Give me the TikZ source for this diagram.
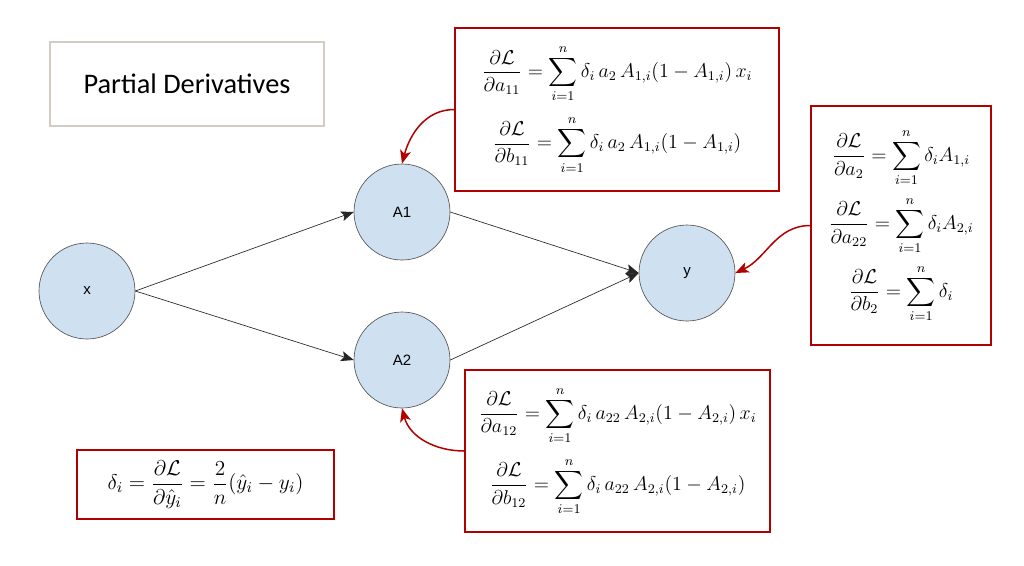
\RequirePackage{fix-cm}
\documentclass[tikz,border=0pt]{standalone}
\usepackage[no-math]{fontspec}
\usepackage{amsmath}
\usepackage{amssymb}
\usetikzlibrary{arrows.meta, positioning}
\newfontfamily\titlefont{Carlito}
\newfontfamily\labelfont{Liberation Sans}
\definecolor{nodeblue}{HTML}{CFE0F1}
\definecolor{nodeedge}{HTML}{555555}
\definecolor{boxred}{HTML}{B00000}
\definecolor{titlegray}{HTML}{D3CCC5}
\tikzset{
  neuron/.style={circle, draw=nodeedge, fill=nodeblue, minimum size=57.6pt, inner sep=0pt, font=\labelfont\small},
  fwd/.style={draw=black!85, -{Stealth[length=7.5pt,width=6pt,inset=1.5pt]}},
  formbox/.style={draw=boxred, line width=0.8pt, inner sep=0pt, font=\fontsize{12}{14}\selectfont},
  back/.style={draw=boxred, line width=0.9pt, -{Stealth[length=8pt,width=6.5pt,inset=2pt]}},
}

\begin{document}
\begin{tikzpicture}[x=0.6pt, y=-0.6pt]
\useasboundingbox (0,0) rectangle (1024,565);

% Title
\node[draw=titlegray, line width=1.2pt, minimum width=164.4pt, minimum height=50.4pt,
      font=\titlefont\fontsize{17}{19}\selectfont] (title) at (187,84) {Partial Derivatives};

% Network
\node[neuron] (x) at (87,291) {x};
\node[neuron] (A1) at (402,212) {A1};
\node[neuron] (A2) at (402,360) {A2};
\node[neuron] (y) at (687,273) {y};

\draw[fwd] (x.east) -- (A1.west);
\draw[fwd] (x.east) -- (A2.west);
\draw[fwd] (A1.east) -- (y.west);
\draw[fwd] (A2.east) -- (y.west);

% Gradient boxes
\node[formbox, minimum width=194.4pt, minimum height=97.8pt] (gA1) at (617,109.5) {$\begin{gathered}
  \frac{\partial\mathcal{L}}{\partial a_{11}} = \sum_{i=1}^{n}\delta_i\, a_2\, A_{1,i}(1-A_{1,i})\, x_i \\[4pt]
  \frac{\partial\mathcal{L}}{\partial b_{11}} = \sum_{i=1}^{n}\delta_i\, a_2\, A_{1,i}(1-A_{1,i})
\end{gathered}$};

\node[formbox, minimum width=108pt, minimum height=143.4pt] (gy) at (901,225.5) {$\begin{gathered}
  \frac{\partial\mathcal{L}}{\partial a_{2}} = \sum_{i=1}^{n}\delta_i A_{1,i} \\[2pt]
  \frac{\partial\mathcal{L}}{\partial a_{22}} = \sum_{i=1}^{n}\delta_i A_{2,i} \\[2pt]
  \frac{\partial\mathcal{L}}{\partial b_{2}} = \sum_{i=1}^{n}\delta_i
\end{gathered}$};

\node[formbox, minimum width=183pt, minimum height=97.2pt] (gA2) at (617.5,451) {$\begin{gathered}
  \frac{\partial\mathcal{L}}{\partial a_{12}} = \sum_{i=1}^{n}\delta_i\, a_{22}\, A_{2,i}(1-A_{2,i})\, x_i \\[4pt]
  \frac{\partial\mathcal{L}}{\partial b_{12}} = \sum_{i=1}^{n}\delta_i\, a_{22}\, A_{2,i}(1-A_{2,i})
\end{gathered}$};

\node[formbox, minimum width=154.2pt, minimum height=41.4pt, font=\fontsize{12.8}{14}\selectfont] (delta) at (205.5,484.5)
  {$\displaystyle \delta_i = \frac{\partial\mathcal{L}}{\partial\hat{y}_i} = \frac{2}{n}(\hat{y}_i - y_i)$};

% Back arrows
\draw[back] (gA1.west) to[out=180, in=75] (A1.north);
\draw[back] (gy.west) to[out=180, in=25] (y.east);
\draw[back] (gA2.west) to[out=180, in=-75] (A2.south);
\end{tikzpicture}
\end{document}
